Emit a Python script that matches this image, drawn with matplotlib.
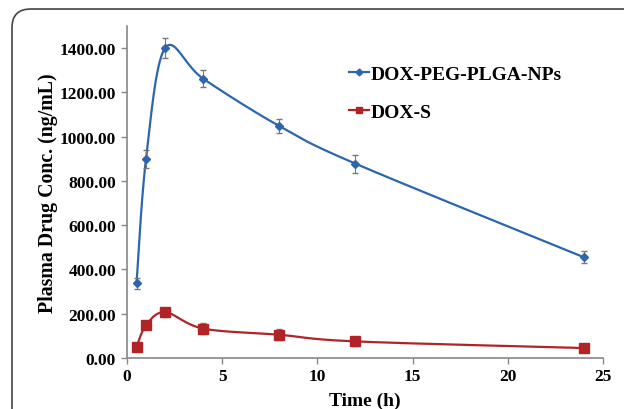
import numpy as np
import matplotlib.pyplot as plt
import matplotlib.patches as mpatches

# sampling times (h)
time_h = [0.5, 1, 2, 4, 8, 12, 24]
# DOX-PEG-PLGA-NPs
np_conc = [337, 900, 1400, 1262, 1048, 878, 455]
np_err = [25, 40, 45, 38, 33, 40, 28]
# DOX-S
s_conc = [50, 148, 207, 133, 105, 75, 45]
s_err = [15, 15, 20, 25, 25, 20, 15]

y_ticks = [0, 200, 400, 600, 800, 1000, 1200, 1400]
x_ticks = [0, 5, 10, 15, 20, 25]

plt.rcParams['font.family'] = ['Liberation Serif', 'DejaVu Serif']
plt.rcParams['font.weight'] = 'bold'

fig = plt.figure(figsize=(6.24, 4.10), dpi=100)
ax = fig.add_axes([127/624, 1 - 359/410, (603 - 127)/624, (359 - 27)/410])
ax.set_xlim(0, 25)
ax.set_ylim(0, 1500)


def smooth(xs, ys, n=40):
    # Excel-like smoothed line: cardinal bezier in screen space
    sx, sy = 476 / 25.0, 332 / 1500.0
    P = np.column_stack([np.array(xs) * sx, np.array(ys) * sy])
    out = []
    for i in range(len(P) - 1):
        p0 = P[i - 1] if i > 0 else P[i]
        p1, p2 = P[i], P[i + 1]
        p3 = P[i + 2] if i + 2 < len(P) else P[i + 1]
        c1 = p1 + (p2 - p0) / 6.0
        c2 = p2 - (p3 - p1) / 6.0
        t = np.linspace(0, 1, n)[:, None]
        seg = (1 - t)**3 * p1 + 3 * (1 - t)**2 * t * c1 + 3 * (1 - t) * t**2 * c2 + t**3 * p2
        out.append(seg if i == 0 else seg[1:])
    out = np.vstack(out)
    return out[:, 0] / sx, out[:, 1] / sy


blue = '#2C66AE'
red = '#B02428'

bx, by = smooth(time_h, np_conc)
rx, ry = smooth(time_h, s_conc)
ax.plot(bx, by, color=blue, lw=1.6, zorder=2)
ax.plot(rx, ry, color=red, lw=1.6, zorder=2)
ax.errorbar(time_h, np_conc, yerr=np_err, fmt='none', ecolor='#777777', elinewidth=0.8, capsize=2, zorder=3)
ax.errorbar(time_h, s_conc, yerr=s_err, fmt='none', ecolor='#777777', elinewidth=0.8, capsize=2, zorder=3)
ax.plot(time_h, np_conc, 'D', color=blue, ms=4, zorder=4)
ax.plot(time_h, s_conc, 's', color=red, ms=7, zorder=4)

for s in ['top', 'right']:
    ax.spines[s].set_visible(False)
for s in ['left', 'bottom']:
    ax.spines[s].set_color('#888888')
    ax.spines[s].set_linewidth(1.2)
ax.set_yticks(y_ticks)
ax.set_yticklabels([f'{v:.2f}' for v in y_ticks])
ax.set_xticks(x_ticks)
ax.tick_params(axis='both', colors='#888888', labelcolor='black', labelsize=12.5, length=4, width=1)
ax.tick_params(axis='x', pad=3)
ax.tick_params(axis='y', pad=4)
for lab in ax.get_xticklabels() + ax.get_yticklabels():
    lab.set_fontweight('bold')

ax.set_xlabel('Time (h)', fontsize=14, fontweight='bold', labelpad=6)
ax.set_ylabel('Plasma Drug Conc. (ng/mL)', fontsize=14.3, fontweight='bold', labelpad=1)

h1 = plt.Line2D([0], [0], color=blue, lw=1.6, marker='D', ms=3.5)
h2 = plt.Line2D([0], [0], color=red, lw=1.6, marker='s', ms=5)
ax.legend([h1, h2], ['DOX-PEG-PLGA-NPs', 'DOX-S'], loc='upper left',
          bbox_to_anchor=(0.43, 0.935), frameon=False,
          prop={'weight': 'bold', 'size': 14}, handlelength=1.0, handletextpad=0.1,
          labelspacing=1.05)

frame = mpatches.FancyBboxPatch((12/624, -0.2), 1.2, 1 - 10/410 + 0.2,
                                boxstyle='round,pad=0,rounding_size=0.03',
                                transform=fig.transFigure, facecolor='none',
                                edgecolor='#444444', lw=1.2, mutation_aspect=624/410)
fig.patches.append(frame)

fig.savefig('out.png', dpi=100)
